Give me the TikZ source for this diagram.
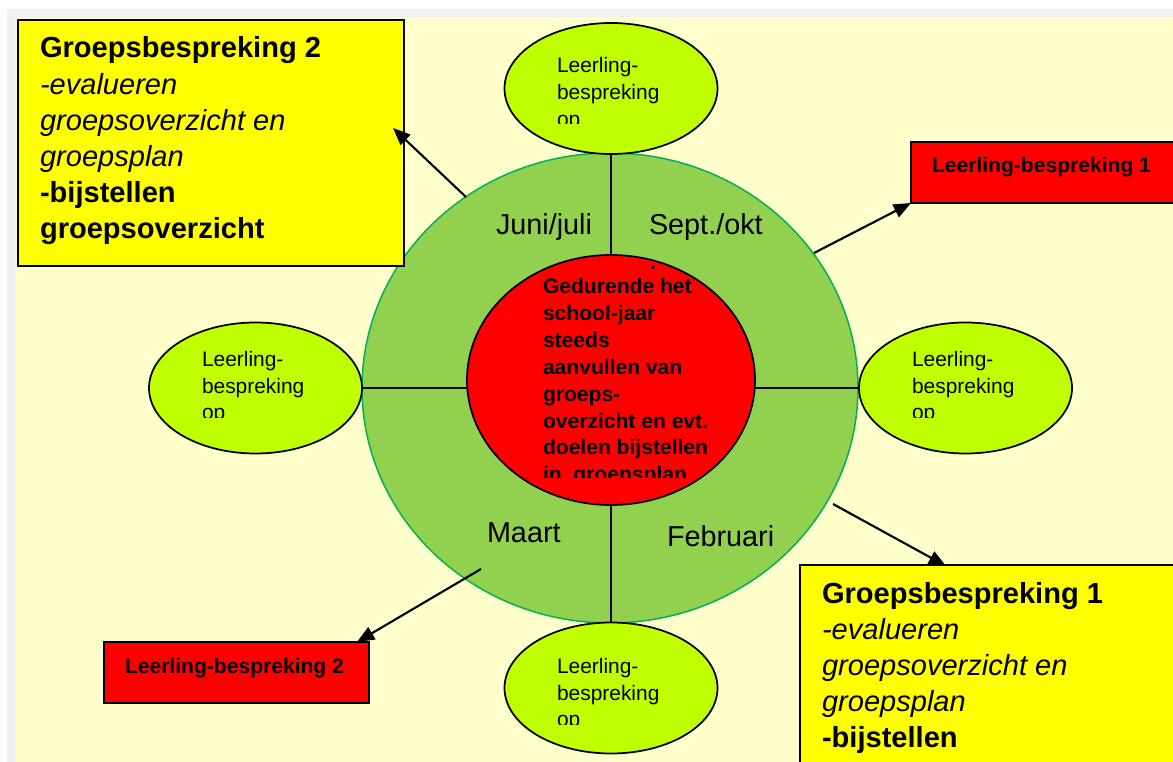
\documentclass[tikz,border=0pt]{standalone}
\usepackage{fontspec}
\setmainfont{Liberation Sans}
\usetikzlibrary{shapes.geometric,arrows.meta}
\definecolor{bgyel}{HTML}{FFFFCC}
\definecolor{bggray}{HTML}{F0F0F0}
\definecolor{ringgreen}{HTML}{92D050}
\definecolor{ringedge}{HTML}{00B050}
\definecolor{limefill}{HTML}{BFFF00}
\definecolor{boxyellow}{HTML}{FFFF00}
\definecolor{boxred}{HTML}{FF0000}
\tikzset{
  oval/.style={ellipse, draw=black, line width=1.3pt, fill=limefill,
    minimum width=159.75pt, minimum height=98.25pt, inner sep=0pt, outer sep=0pt},
  divider/.style={draw=black, line width=1.2pt},
  pointer/.style={draw=black, line width=1.6pt, -{Triangle[length=13pt,width=10.5pt]}},
  ybox/.style={rectangle, draw=black, line width=1.3pt, fill=boxyellow, anchor=north west, inner sep=0pt, outer sep=0pt},
  rbox/.style={rectangle, draw=black, line width=1.3pt, fill=boxred, anchor=north west, inner sep=0pt, outer sep=0pt},
  txt/.style={anchor=base west, inner sep=0pt, outer sep=0pt},
  bigb/.style={txt, font=\fontsize{21.8pt}{26pt}\selectfont\bfseries},
  bigi/.style={txt, font=\fontsize{21.8pt}{26pt}\selectfont\itshape},
  month/.style={txt, font=\fontsize{21.6pt}{26pt}\selectfont},
  midb/.style={txt, font=\fontsize{15.8pt}{20pt}\selectfont\bfseries},
  ovtxt/.style={txt, font=\fontsize{15.7pt}{20pt}\selectfont},
}
\begin{document}
\begin{tikzpicture}[x=0.75pt,y=-0.75pt]
\useasboundingbox (0,0) rectangle (1173,762);
\clip (0,0) rectangle (1173,762);
\fill[white] (0,0) rectangle (1173,762);
\fill[bggray] (7,9) rectangle (1173,762);
\fill[bgyel] (15,17) rectangle (1173,762);

% ring
\node[ellipse, draw=ringedge, line width=1.1pt, fill=ringgreen,
  minimum width=372pt, minimum height=352.5pt, inner sep=0pt, outer sep=0pt] (ring) at (610,388) {};

% satellite ovals
\node[oval] (ovT) at (611,88.5) {};
\node[oval] (ovB) at (611,688) {};
\node[oval] (ovL) at (255.5,388) {};
\node[oval] (ovR) at (965.5,388) {};

% dividers
\draw[divider] (ovT.south) -- (ovB.north);
\draw[divider] (ovL.east) -- (ovR.west);

% centre
\node[ellipse, draw=black, line width=1.3pt, fill=boxred,
  minimum width=216pt, minimum height=187.5pt, inner sep=0pt, outer sep=0pt] (core) at (611,380) {};

% months
\node[month] (mJun) at (496,235) {Juni/juli};
\node[month] (mSep) at (649,235) {Sept./okt};
\node[month] (mMrt) at (487,542) {Maart};
\node[month] (mFeb) at (667,546) {Februari};

% boxes
\node[ybox, minimum width=289.5pt, minimum height=184.5pt] (gb2) at (18,20) {};
\node[ybox, minimum width=330pt, minimum height=160pt] (gb1) at (800,565) {};
\node[rbox, minimum width=225pt, minimum height=45.75pt] (lb1) at (911,142) {};
\node[rbox, minimum width=198.75pt, minimum height=45.75pt] (lb2) at (104,642) {};

% arrows
\coordinate (s1) at (466,197);
\coordinate (e1) at (393,128);
\coordinate (s2) at (814,253);
\coordinate (s3) at (833,504);
\coordinate (e3) at (946,566);
\coordinate (s4) at (481,569);
\coordinate (e4) at (357,642);
\draw[pointer] (s1) -- (e1);
\draw[pointer] (s2) -- (lb1.south west);
\draw[pointer] (s3) -- (e3);
\draw[pointer] (s4) -- (e4);

% Groepsbespreking 2
\node[bigb] (g2a) at (40,58) {Groepsbespreking 2};
\node[bigi] (g2b) at (40,94.2) {-evalueren};
\node[bigi] (g2c) at (40,130.4) {groepsoverzicht en};
\node[bigi] (g2d) at (40,166.6) {groepsplan};
\node[bigb] (g2e) at (40,202.8) {-bijstellen};
\node[bigb] (g2f) at (40,239) {groepsoverzicht};

% Groepsbespreking 1
\node[bigb] (g1a) at (822,603) {Groepsbespreking 1};
\node[bigi] (g1b) at (822,639.2) {-evalueren};
\node[bigi] (g1c) at (822,675.4) {groepsoverzicht en};
\node[bigi] (g1d) at (822,711.6) {groepsplan};
\node[bigb] (g1e) at (822,747.8) {-bijstellen};

% red boxes text
\node[midb] (l1t) at (932,173) {Leerling-bespreking 1};
\node[midb] (l2t) at (125,673) {Leerling-bespreking 2};

% core text
\node[midb] (c0) at (650,269.5) {.};
\node[midb] (c1) at (543,294) {Gedurende het};
\node[midb] (c2) at (543,320.8) {school-jaar};
\node[midb] (c3) at (543,347.6) {steeds};
\node[midb] (c4) at (543,374.4) {aanvullen van};
\node[midb] (c5) at (543,401.2) {groeps-};
\node[midb] (c6) at (543,428) {overzicht en evt.};
\node[midb] (c7) at (543,454.8) {doelen bijstellen};
\begin{scope}
\clip (530,455) rectangle (760,477);
\node[midb] (c8) at (543,481.6) {in~~groepsplan};
\end{scope}

% oval texts
\node[ovtxt] (tT1) at (557,73) {Leerling-};
\node[ovtxt] (tT2) at (557,100) {bespreking};
\begin{scope}
\clip (550,105) rectangle (640,124);
\node[ovtxt] (tT3) at (557,126.5) {op};
\end{scope}

\node[ovtxt] (tB1) at (557,673) {Leerling-};
\node[ovtxt] (tB2) at (557,700) {bespreking};
\begin{scope}
\clip (550,705) rectangle (640,724);
\node[ovtxt] (tB3) at (557,726.5) {op};
\end{scope}

\node[ovtxt] (tL1) at (202,367) {Leerling-};
\node[ovtxt] (tL2) at (202,393) {bespreking};
\begin{scope}
\clip (195,398) rectangle (290,417);
\node[ovtxt] (tL3) at (202,419.5) {op};
\end{scope}

\node[ovtxt] (tR1) at (912,367) {Leerling-};
\node[ovtxt] (tR2) at (912,393) {bespreking};
\begin{scope}
\clip (905,398) rectangle (1000,417);
\node[ovtxt] (tR3) at (912,419.5) {op};
\end{scope}
\end{tikzpicture}
\end{document}
